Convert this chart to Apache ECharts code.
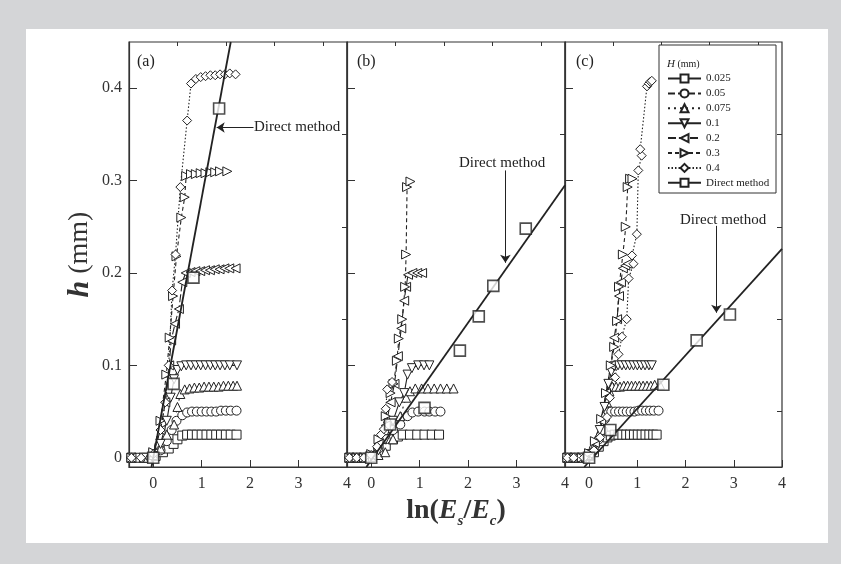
<!DOCTYPE html>
<html><head><meta charset="utf-8">
<script src="https://cdn.jsdelivr.net/npm/echarts@6/dist/echarts.min.js"></script>
<style>html,body{margin:0;padding:0;background:#d4d5d7}#c{width:841px;height:564px}</style>
</head><body><div id="c"></div><script>
// ---------- data ----------
const hNames = ['0.025','0.05','0.075','0.1','0.2','0.3','0.4'];
const directName = 'Direct method';
const xTickLabels = [0,1,2,3,4];
const xMinorTicks = [-0.5,0.5,1.5,2.5,3.5];
const yTickLabels = [0,0.1,0.2,0.3,0.4];
const yMinorTicks = [0.05,0.15,0.25,0.35];

// panel (a)
const a025 = [[-0.45,0],[-0.3,0],[-0.1,0],[0.05,0.002],[0.2,0.006],[0.32,0.01],[0.42,0.015],[0.5,0.02],[0.6,0.024],[0.7,0.025],[0.8,0.025],[0.9,0.025],[1.0,0.025],[1.1,0.025],[1.2,0.025],[1.3,0.025],[1.4,0.025],[1.5,0.025],[1.6,0.025],[1.72,0.025]];
const a05 = [[-0.45,0],[-0.2,0],[0,0.002],[0.15,0.008],[0.28,0.018],[0.38,0.03],[0.48,0.04],[0.6,0.046],[0.7,0.049],[0.8,0.05],[0.9,0.05],[1.0,0.05],[1.1,0.05],[1.2,0.05],[1.3,0.05],[1.4,0.051],[1.5,0.051],[1.6,0.051],[1.72,0.051]];
const a075 = [[-0.45,0],[-0.2,0],[0,0.003],[0.15,0.01],[0.28,0.025],[0.43,0.036],[0.5,0.055],[0.56,0.069],[0.65,0.074],[0.75,0.075],[0.85,0.076],[0.95,0.076],[1.05,0.077],[1.15,0.077],[1.25,0.077],[1.35,0.077],[1.45,0.078],[1.55,0.078],[1.65,0.078],[1.73,0.078]];
const a1 = [[-0.45,0],[-0.2,0],[0,0.004],[0.15,0.015],[0.28,0.04],[0.36,0.065],[0.43,0.085],[0.5,0.095],[0.58,0.099],[0.68,0.1],[0.78,0.1],[0.88,0.1],[0.98,0.1],[1.08,0.1],[1.18,0.1],[1.28,0.1],[1.38,0.1],[1.48,0.1],[1.58,0.1],[1.73,0.1]];
const a2 = [[-0.45,0],[0,0.005],[0.15,0.03],[0.25,0.06],[0.33,0.1],[0.37,0.127],[0.45,0.145],[0.53,0.161],[0.6,0.19],[0.67,0.2],[0.77,0.201],[0.87,0.202],[0.97,0.202],[1.07,0.203],[1.17,0.203],[1.27,0.204],[1.37,0.204],[1.47,0.205],[1.57,0.205],[1.7,0.205]];
const a3 = [[-0.45,0],[0,0.006],[0.15,0.04],[0.27,0.09],[0.34,0.13],[0.41,0.175],[0.48,0.218],[0.58,0.26],[0.65,0.282],[0.68,0.305],[0.78,0.307],[0.88,0.307],[0.98,0.308],[1.08,0.308],[1.18,0.309],[1.28,0.309],[1.38,0.31],[1.53,0.31]];
const a4 = [[-0.45,0],[-0.25,0],[0,0.004],[0.15,0.03],[0.25,0.06],[0.32,0.1],[0.39,0.181],[0.46,0.22],[0.56,0.293],[0.7,0.365],[0.78,0.405],[0.88,0.41],[0.98,0.412],[1.08,0.413],[1.18,0.414],[1.28,0.414],[1.38,0.415],[1.48,0.415],[1.58,0.416],[1.7,0.415]];
const aDirectPts = [[0,0],[0.42,0.08],[0.83,0.195],[1.36,0.378]];
const aDirectLine = [[-0.035,-0.01],[1.6,0.45]];
const aArrow = [[2.07,0.3575],[1.31,0.3575]];

// panel (b)
const b025 = [[-0.45,0],[-0.3,0],[-0.15,0],[0,0.001],[0.15,0.006],[0.3,0.013],[0.45,0.02],[0.55,0.023],[0.65,0.025],[0.8,0.025],[0.95,0.025],[1.1,0.025],[1.25,0.025],[1.4,0.025]];
const b05 = [[-0.45,0],[-0.3,0],[-0.15,0],[0,0.002],[0.15,0.01],[0.3,0.02],[0.45,0.03],[0.6,0.036],[0.75,0.045],[0.85,0.049],[0.97,0.05],[1.1,0.05],[1.2,0.05],[1.32,0.05],[1.43,0.05]];
const b075 = [[-0.45,0],[-0.3,0],[-0.15,0],[0,0.001],[0.15,0.003],[0.29,0.006],[0.45,0.02],[0.6,0.045],[0.72,0.065],[0.8,0.072],[0.91,0.075],[1.04,0.075],[1.17,0.075],[1.3,0.075],[1.43,0.075],[1.56,0.075],[1.7,0.075]];
const b1 = [[-0.45,0],[-0.3,0],[-0.15,0],[0,0.002],[0.15,0.008],[0.3,0.02],[0.45,0.04],[0.58,0.06],[0.68,0.07],[0.75,0.09],[0.84,0.097],[0.97,0.1],[1.09,0.1],[1.2,0.1]];
const b2 = [[-0.45,0],[-0.3,0],[-0.15,0],[0,0.003],[0.15,0.015],[0.3,0.035],[0.4,0.06],[0.48,0.08],[0.55,0.11],[0.62,0.14],[0.68,0.17],[0.72,0.185],[0.76,0.198],[0.85,0.2],[0.95,0.2],[1.05,0.2]];
const b3 = [[-0.45,0],[-0.3,0],[-0.15,0],[0,0.004],[0.15,0.02],[0.3,0.045],[0.4,0.07],[0.46,0.08],[0.53,0.105],[0.57,0.129],[0.64,0.15],[0.7,0.185],[0.72,0.22],[0.74,0.293],[0.81,0.299]];
const b4 = [[-0.45,0],[-0.3,0],[-0.15,0],[0,0.003],[0.12,0.012],[0.2,0.025],[0.26,0.031],[0.3,0.053],[0.33,0.074],[0.43,0.082]];
const bDirectPts = [[0,0],[0.39,0.036],[1.1,0.054],[1.83,0.116],[2.22,0.153],[2.52,0.186],[3.19,0.248]];
const bDirectLine = [[-0.1,-0.01],[4,0.295]];
const bArrow = [[2.77,0.311],[2.77,0.211]];

// panel (c)
const c025 = [[-0.45,0],[-0.3,0],[-0.15,0],[0,0.002],[0.1,0.006],[0.2,0.012],[0.3,0.018],[0.38,0.022],[0.45,0.024],[0.53,0.025],[0.61,0.025],[0.69,0.025],[0.77,0.025],[0.85,0.025],[0.93,0.025],[1.01,0.025],[1.09,0.025],[1.17,0.025],[1.25,0.025],[1.33,0.025],[1.4,0.025]];
const c05 = [[-0.45,0],[-0.3,0],[-0.15,0],[0,0.003],[0.1,0.01],[0.2,0.02],[0.28,0.03],[0.33,0.042],[0.38,0.049],[0.46,0.05],[0.54,0.05],[0.62,0.05],[0.7,0.05],[0.78,0.05],[0.86,0.05],[0.94,0.05],[1.02,0.051],[1.1,0.051],[1.18,0.051],[1.26,0.051],[1.34,0.051],[1.44,0.051]];
const c075 = [[-0.45,0],[-0.3,0],[-0.15,0],[0,0.003],[0.1,0.012],[0.2,0.025],[0.3,0.045],[0.37,0.06],[0.42,0.072],[0.48,0.077],[0.56,0.077],[0.64,0.077],[0.72,0.078],[0.8,0.078],[0.88,0.078],[0.96,0.078],[1.04,0.078],[1.12,0.078],[1.2,0.078],[1.28,0.078],[1.36,0.079],[1.47,0.079]];
const c1 = [[-0.45,0],[-0.3,0],[-0.15,0],[0,0.004],[0.12,0.015],[0.22,0.03],[0.32,0.055],[0.4,0.08],[0.46,0.093],[0.52,0.099],[0.6,0.1],[0.68,0.1],[0.76,0.1],[0.84,0.1],[0.92,0.1],[1.0,0.1],[1.08,0.1],[1.16,0.1],[1.24,0.1],[1.3,0.1]];
const c2 = [[-0.45,0],[-0.3,0],[-0.15,0],[0,0.004],[0.12,0.016],[0.25,0.04],[0.35,0.07],[0.45,0.1],[0.52,0.13],[0.58,0.15],[0.62,0.175],[0.66,0.19],[0.7,0.205],[0.75,0.208],[0.8,0.21]];
const c3 = [[-0.45,0],[-0.3,0],[-0.15,0],[0,0.005],[0.12,0.018],[0.25,0.042],[0.35,0.07],[0.45,0.1],[0.52,0.12],[0.58,0.148],[0.62,0.185],[0.7,0.22],[0.76,0.25],[0.8,0.293],[0.85,0.302],[0.9,0.302]];
const c4 = [[-0.45,0],[-0.32,0],[-0.11,0],[0.1,0.008],[0.23,0.022],[0.37,0.044],[0.43,0.065],[0.54,0.087],[0.61,0.112],[0.68,0.131],[0.78,0.15],[0.82,0.194],[0.92,0.21],[0.89,0.219],[0.99,0.242],[1.02,0.311],[1.09,0.327],[1.06,0.334],[1.2,0.402],[1.24,0.405],[1.27,0.407],[1.3,0.408]];
const cDirectPts = [[0,0],[0.44,0.03],[1.54,0.079],[2.23,0.127],[2.92,0.155]];
const cDirectLine = [[-0.1,-0.01],[4,0.226]];
const cArrow = [[2.64,0.251],[2.64,0.157]];

// ---------- styling ----------
const FONT = 'Liberation Serif';
const INK = '#222';
const AX = '#333';
const symbols = ['rect','circle','triangle','triangle','triangle','triangle','diamond'];
const rotates = [0,0,0,180,90,-90,0];
const dashes = ['solid',[7,3],[2,4],'solid',[8,3],[4,3],[1.5,2]];

const panels = [
  {left:129, width:218, sets:[a025,a05,a075,a1,a2,a3,a4], pts:aDirectPts, line:aDirectLine, arrow:aArrow},
  {left:347, width:218, sets:[b025,b05,b075,b1,b2,b3,b4], pts:bDirectPts, line:bDirectLine, arrow:bArrow},
  {left:565, width:217, sets:[c025,c05,c075,c1,c2,c3,c4], pts:cDirectPts, line:cDirectLine, arrow:cArrow}
];

const grid = [], xAxis = [], yAxis = [], series = [];
panels.forEach((p, i) => {
  grid.push({left:p.left, top:42, width:p.width, height:425, show:true, borderColor:AX, borderWidth:1.2, backgroundColor:'transparent'});
  const xName = i === 1 ? '{n|ln(}{e|E}{s|s}{n|/}{e|E}{s|c}{n|)}' : '';
  xAxis.push({type:'value', gridIndex:i, min:-0.5, max:4,
    axisLine:{show:true, onZero:false, lineStyle:{color:AX, width:1.2}},
    axisTick:{show:true, inside:true, length:7, customValues:xTickLabels, lineStyle:{color:AX, width:1}},
    axisLabel:{show:true, customValues:xTickLabels, margin:9, fontFamily:FONT, fontSize:16, color:'#333'},
    splitLine:{show:false},
    name:xName, nameLocation:'middle', nameGap:26,
    nameTextStyle:{rich:{
      n:{fontFamily:FONT, fontSize:28, fontWeight:'bold', lineHeight:36, color:'#333'},
      e:{fontFamily:FONT, fontSize:28, fontWeight:'bold', fontStyle:'italic', lineHeight:36, color:'#333'},
      s:{fontFamily:FONT, fontSize:15, fontWeight:'bold', fontStyle:'italic', lineHeight:14, verticalAlign:'bottom', color:'#333'}
    }}
  });
  xAxis.push({type:'value', gridIndex:i, min:-0.5, max:4,
    axisLine:{show:false, onZero:false},
    axisTick:{show:true, inside:true, length:4, customValues:xMinorTicks, lineStyle:{color:AX, width:1}},
    axisLabel:{show:false}, splitLine:{show:false}});
  yAxis.push({type:'value', gridIndex:i, min:-0.01, max:0.45,
    axisLine:{show:true, onZero:false, lineStyle:{color:AX, width:1.2}},
    axisTick:{show:true, inside:true, length:8, customValues:yTickLabels, lineStyle:{color:AX, width:1}},
    axisLabel:{show:i === 0, customValues:yTickLabels, margin:7, fontFamily:FONT, fontSize:16, color:'#333',
      formatter: v => v === 0 ? '0' : v.toFixed(1)},
    splitLine:{show:false},
    name: i === 0 ? '{i|h} (mm)' : '', nameLocation:'middle', nameGap:34, nameRotate:90,
    nameTextStyle:{fontFamily:FONT, fontSize:28, color:'#333',
      rich:{i:{fontFamily:FONT, fontSize:30, fontStyle:'italic', fontWeight:'bold', color:'#333'}}}
  });
  yAxis.push({type:'value', gridIndex:i, min:-0.01, max:0.45,
    axisLine:{show:false, onZero:false},
    axisTick:{show:true, inside:true, length:5, customValues:yMinorTicks, lineStyle:{color:AX, width:1}},
    axisLabel:{show:false}, splitLine:{show:false}});

  p.sets.forEach((d, k) => {
    series.push({type:'line', name:hNames[k], xAxisIndex:2*i, yAxisIndex:2*i, data:d,
      symbol:symbols[k], symbolRotate:rotates[k], symbolSize:9, showSymbol:true, showAllSymbol:true,
      lineStyle:{color:INK, width:1.1, type:dashes[k]},
      itemStyle:{color:'#fff', borderColor:INK, borderWidth:1},
      animation:false, z:2});
  });
  series.push({type:'line', name:directName, xAxisIndex:2*i, yAxisIndex:2*i, data:p.line,
    symbol:'rect', symbolSize:9, showSymbol:false,
    lineStyle:{color:INK, width:1.8},
    itemStyle:{color:'#fff', borderColor:INK, borderWidth:1.5},
    animation:false, z:3,
    markLine:{silent:true, symbol:['none','arrow'], symbolSize:8, animation:false,
      label:{show:false}, lineStyle:{color:INK, width:1, type:'solid'},
      data:[[{coord:p.arrow[0]},{coord:p.arrow[1]}]]}
  });
  series.push({type:'scatter', name:'direct-points', xAxisIndex:2*i, yAxisIndex:2*i, data:p.pts,
    symbol:'rect', symbolSize:11,
    itemStyle:{color:'#fff', borderColor:INK, borderWidth:1.6},
    animation:false, z:4});
});

const txt = (x, y, text, size, extra) => Object.assign({type:'text', x, y, z:10,
  style:Object.assign({text, fontFamily:FONT, fontSize:size, fill:'#222', verticalAlign:'middle', align:'left'}, extra||{})});

const option = {
  backgroundColor:'#d4d5d7',
  animation:false,
  grid, xAxis, yAxis, series,
  legend:{orient:'vertical', left:667, top:73, padding:0, itemWidth:33, itemHeight:10, itemGap:3.9,
    selectedMode:false, data:[...hNames, directName],
    textStyle:{fontFamily:FONT, fontSize:11, color:'#222'}},
  graphic:[
    {type:'rect', z:-1, shape:{x:26, y:29, width:802, height:514}, style:{fill:'#fff'}},
    {type:'rect', z:3, shape:{x:659, y:45, width:117, height:148}, style:{fill:'#fff', stroke:'#333', lineWidth:1}},
    txt(667, 64, '{i|H} (mm)', 10, {rich:{i:{fontFamily:FONT, fontSize:11, fontStyle:'italic'}}}),
    txt(137, 62, '(a)', 16),
    txt(357, 62, '(b)', 16),
    txt(576, 62, '(c)', 16),
    txt(254, 127, 'Direct method', 15),
    txt(459, 163, 'Direct method', 15),
    txt(680, 220, 'Direct method', 15)
  ]
};
const chart = echarts.init(document.getElementById('c'), null, {renderer:'canvas'});
chart.setOption(option);
</script></body></html>
